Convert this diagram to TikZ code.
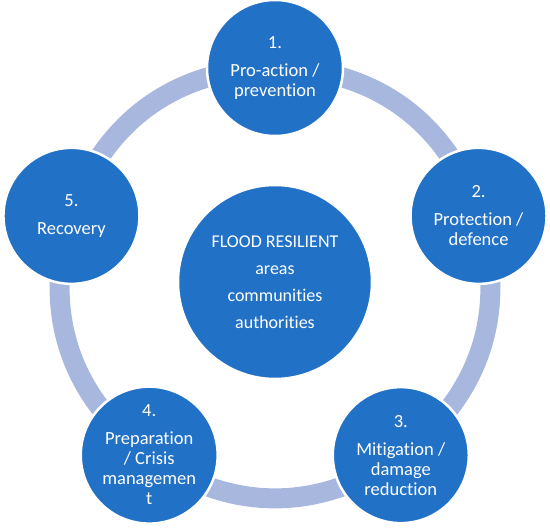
\documentclass[tikz,border=0pt]{standalone}
\usepackage{fontspec}
\setmainfont[Ligatures=NoCommon]{Carlito}
\usepackage{tikz}
\usetikzlibrary{backgrounds}
\definecolor{stageblue}{RGB}{33,113,199}
\definecolor{ringblue}{RGB}{168,183,222}

\begin{document}
\begin{tikzpicture}[
    every node/.style={circle, fill=stageblue, draw=white, line width=2.5pt, text=white, align=center, inner sep=0pt},
    stage/.style={minimum size=136pt, font=\fontsize{18.5}{20}\selectfont},
    hub/.style={minimum size=194pt, font=\fontsize{18}{27}\selectfont},
    ring/.style={draw=ringblue, line width=20pt}
]
    \useasboundingbox (-275pt,-250pt) rectangle (275pt,282pt);

    % Centre
    \node[hub] (Hub) at (0,0) {FLOOD RESILIENT\\areas\\communities\\authorities};

    % Stages
    \node[stage] (ProAction) at (90:214pt) {1.\\[8pt]Pro-action /\\prevention};
    \node[stage] (Protection) at (18:214pt) {2.\\[8pt]Protection /\\defence};
    \node[stage] (Mitigation) at (-54:214pt) {3.\\[8pt]Mitigation /\\damage\\reduction};
    \node[stage] (Preparation) at (-126:214pt) {4.\\[8pt]Preparation\\/ Crisis\\managemen\\t};
    \node[stage] (Recovery) at (162:214pt) {5.\\[8pt]Recovery};

    % Ring
    \begin{pgfonlayer}{background}
        \draw[ring] (ProAction.center) to[bend left=36] (Protection.center);
        \draw[ring] (Protection.center) to[bend left=36] (Mitigation.center);
        \draw[ring] (Mitigation.center) to[bend left=36] (Preparation.center);
        \draw[ring] (Preparation.center) to[bend left=36] (Recovery.center);
        \draw[ring] (Recovery.center) to[bend left=36] (ProAction.center);
    \end{pgfonlayer}
\end{tikzpicture}
\end{document}
